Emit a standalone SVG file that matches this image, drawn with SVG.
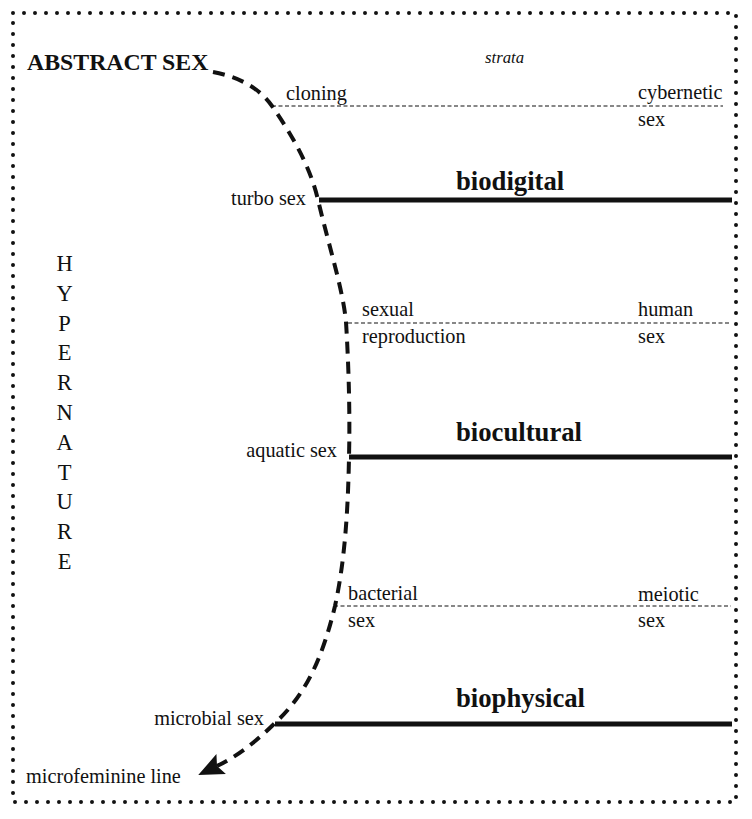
<svg xmlns="http://www.w3.org/2000/svg" width="752" height="819" viewBox="0 0 752 819">
<style>
text{font-family:"Liberation Serif","Times New Roman",serif;fill:#111}
.lbl{font-size:20.3px}
.big{font-size:26.7px;font-weight:bold}
.thin{stroke:#111;stroke-width:1.2;stroke-dasharray:4 2.5;fill:none}
.thick{stroke:#111;stroke-width:5;fill:none}
.hyp{font-size:22.5px;text-anchor:middle}
</style>
<defs>
<marker id="arr" markerUnits="userSpaceOnUse" markerWidth="30" markerHeight="30" viewBox="-2 -12 26 24" refX="4" refY="0" orient="auto">
<path d="M0,-9.5 L22,0 L0,9.5 L4,0 z" fill="#111"/>
</marker>
</defs>
<rect id="frame" x="13" y="13" width="723" height="789" fill="none" stroke="#111" stroke-width="4" stroke-linecap="round" stroke-dasharray="0 11"/>
<g id="connectors">
<line class="thin" x1="272" y1="106" x2="723" y2="106"/>
<line class="thin" x1="348" y1="323" x2="731" y2="323"/>
<line class="thin" x1="334" y1="606" x2="731" y2="606"/>
<line class="thick" x1="319" y1="200" x2="732" y2="200"/>
<line class="thick" x1="349" y1="457" x2="732" y2="457"/>
<line class="thick" x1="275" y1="724" x2="732" y2="724"/>
<path d="M213,72 C245,78 262,92 272,106 C290,132 310,165 318,200 C330,250 343,290 346,322 C349,370 350,420 349,457 C348,510 345,560 335,606 C322,660 305,695 276,722 C260,738 240,755 217,766" fill="none" stroke="#111" stroke-width="4" stroke-dasharray="12 8" marker-end="url(#arr)"/>
</g>
<g id="abstract-sex"><text x="27" y="70" style="font-size:23.8px;font-weight:bold">ABSTRACT SEX</text></g>
<g id="strata"><text x="485" y="63" style="font-size:16.8px;font-style:italic">strata</text></g>
<g id="cloning"><text class="lbl" x="286" y="100">cloning</text></g>
<g id="cybernetic-sex"><text class="lbl" x="638" y="99">cybernetic</text><text class="lbl" x="638" y="126">sex</text></g>
<g id="biodigital"><text class="big" x="456" y="190">biodigital</text></g>
<g id="turbo-sex"><text class="lbl" x="306" y="205" text-anchor="end">turbo sex</text></g>
<g id="sexual-reproduction"><text class="lbl" x="362" y="316">sexual</text><text class="lbl" x="362" y="343">reproduction</text></g>
<g id="human-sex"><text class="lbl" x="638" y="316">human</text><text class="lbl" x="638" y="343">sex</text></g>
<g id="biocultural"><text class="big" x="456" y="441">biocultural</text></g>
<g id="aquatic-sex"><text class="lbl" x="337" y="457" text-anchor="end">aquatic sex</text></g>
<g id="bacterial-sex"><text class="lbl" x="348" y="600">bacterial</text><text class="lbl" x="348" y="627">sex</text></g>
<g id="meiotic-sex"><text class="lbl" x="638" y="601">meiotic</text><text class="lbl" x="638" y="627">sex</text></g>
<g id="biophysical"><text class="big" x="456" y="707">biophysical</text></g>
<g id="microbial-sex"><text class="lbl" x="264" y="725" text-anchor="end">microbial sex</text></g>
<g id="microfeminine-line"><text class="lbl" x="26" y="783">microfeminine line</text></g>
<g id="hypernature">
<text class="hyp" x="64.5" y="271">H</text>
<text class="hyp" x="64.5" y="300.8">Y</text>
<text class="hyp" x="64.5" y="330.6">P</text>
<text class="hyp" x="64.5" y="360.4">E</text>
<text class="hyp" x="64.5" y="390.2">R</text>
<text class="hyp" x="64.5" y="420">N</text>
<text class="hyp" x="64.5" y="449.8">A</text>
<text class="hyp" x="64.5" y="479.6">T</text>
<text class="hyp" x="64.5" y="509.4">U</text>
<text class="hyp" x="64.5" y="539.2">R</text>
<text class="hyp" x="64.5" y="569">E</text>
</g>
</svg>
